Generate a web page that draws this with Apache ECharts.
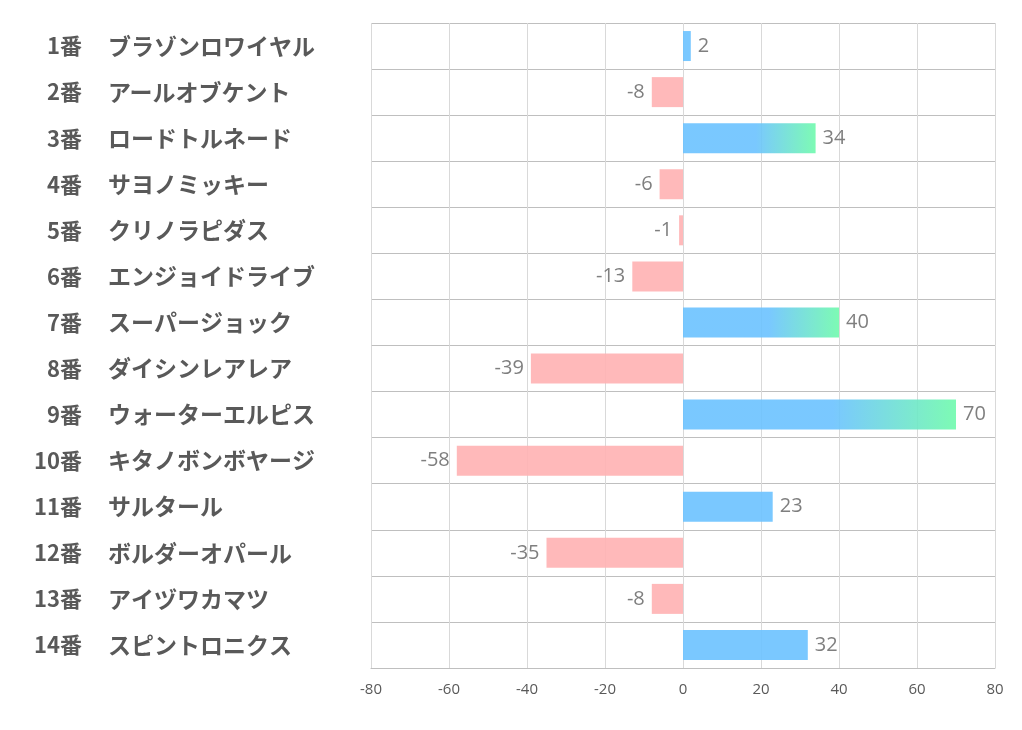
<!DOCTYPE html>
<html><head><meta charset="utf-8">
<script src="https://cdn.jsdelivr.net/npm/echarts@6/dist/echarts.min.js"></script>
<style>html,body{margin:0;padding:0;background:#fff}#c{width:1022px;height:730px}</style>
</head><body><div id="c"></div>
<script>
const numbers = ['1番','2番','3番','4番','5番','6番','7番','8番','9番','10番','11番','12番','13番','14番'];
const names = ['ブラゾンロワイヤル','アールオブケント','ロードトルネード','サヨノミッキー','クリノラピダス','エンジョイドライブ','スーパージョック','ダイシンレアレア','ウォーターエルピス','キタノボンボヤージ','サルタール','ボルダーオパール','アイヅワカマツ','スピントロニクス'];
const values = [2, -8, 34, -6, -1, -13, 40, -39, 70, -58, 23, -35, -8, 32];
const xTicks = [-80, -60, -40, -20, 0, 20, 40, 60, 80];

const topPos = values.filter(v => v > 0).sort((a, b) => b - a).slice(0, 3);

const blue = 'rgba(107,194,255,0.9)';
const pink = 'rgba(255,177,179,0.9)';
const green = 'rgba(111,250,172,0.9)';

const data = values.map(v => {
  let color;
  if (v < 0) color = pink;
  else if (topPos.indexOf(v) >= 0) {
    color = new echarts.graphic.LinearGradient(0, 0, 1, 0, [
      {offset: 0, color: blue}, {offset: 0.55, color: blue}, {offset: 1, color: green}
    ]);
  } else color = blue;
  return {value: v, itemStyle: {color: color}, label: {position: v < 0 ? 'left' : 'right'}};
});

const gridLeft = 371;
const labelFont = {fontWeight: 'bold', color: '#595959', fontFamily: 'Noto Sans CJK JP'};

const chart = echarts.init(document.getElementById('c'), null, {renderer: 'canvas'});
chart.setOption({
  animation: false,
  backgroundColor: '#fff',
  grid: {left: gridLeft, right: 27, top: 23, bottom: 62, containLabel: false},
  xAxis: {
    type: 'value', min: xTicks[0], max: xTicks[xTicks.length - 1], interval: 20,
    axisLine: {show: true, lineStyle: {color: '#bfbfbf', width: 1}},
    axisTick: {show: false},
    axisLabel: {color: '#595959', fontSize: 15, margin: 14, fontFamily: 'Open Sans, sans-serif'},
    splitLine: {show: true, lineStyle: {color: '#d9d9d9', width: 1}}
  },
  yAxis: [{
    type: 'category', data: names, inverse: true, position: 'left',
    axisLine: {show: false}, axisTick: {show: false},
    splitLine: {show: true, interval: 0, lineStyle: {color: '#bfbfbf', width: 1}},
    axisLabel: Object.assign({margin: gridLeft - 108, align: 'left', fontSize: 23, padding: [2, 0, 0, 0]}, labelFont)
  }, {
    type: 'category', data: numbers, inverse: true, position: 'left',
    axisLine: {show: false}, axisTick: {show: false}, splitLine: {show: false},
    axisLabel: Object.assign({margin: gridLeft - 82, align: 'right', fontSize: 22, padding: [2, 0, 0, 0]}, labelFont)
  }],
  series: [{
    type: 'bar', data: data, barWidth: 30, yAxisIndex: 0,
    label: {show: true, distance: 7, color: '#7f7f7f', fontSize: 20, fontFamily: 'Open Sans, sans-serif', padding: [4, 0, 0, 0]}
  }]
});
</script></body></html>
